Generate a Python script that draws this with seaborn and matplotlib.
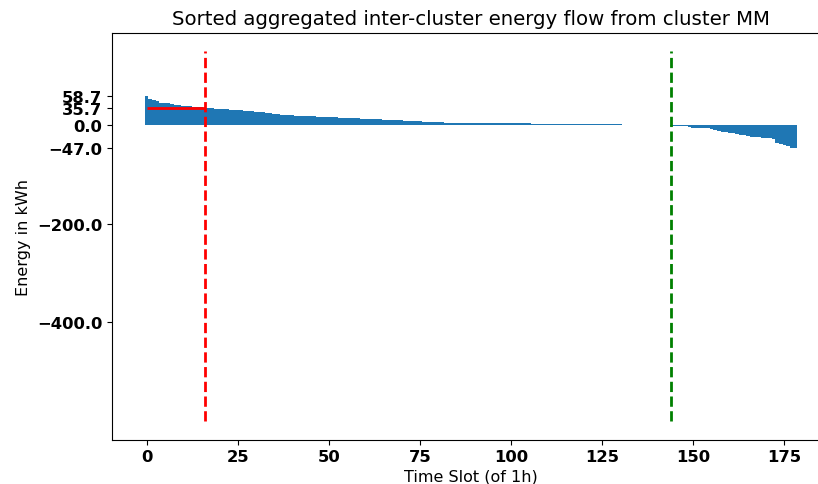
#!/usr/bin/env python3

import matplotlib
matplotlib.use("Agg")
import matplotlib.pyplot as plt
import numpy as np
import pandas as pd
import seaborn as sns

FIGSIZE = (8.18, 4.85)

# Sorted hourly inter-cluster flow (kWh).
POSITIVE = [
    58.7, 53.0, 50.5, 49.8, 45.6, 45.0, 44.2, 42.3, 41.8, 41.0,
    39.0, 38.6, 38.2, 37.8, 37.2, 36.5, 35.7, 35.0, 34.4, 33.5,
    33.1, 32.6, 32.1, 31.2, 30.8, 30.3, 29.8, 29.2, 28.7, 28.2,
    27.6, 26.6, 26.1, 25.4, 24.5, 22.6, 21.9, 20.6, 20.3, 20.0,
    19.7, 19.3, 18.6, 18.4, 18.2, 18.0, 17.8, 17.6, 17.4, 17.2,
    16.8, 16.3, 15.6, 15.4, 15.2, 15.0, 14.8, 14.5, 13.8, 13.3,
    12.4, 12.2, 12.0, 11.8, 11.6, 11.4, 11.1, 10.2, 10.0, 9.8,
    9.6, 9.4, 9.1, 8.2, 8.0, 7.7, 7.4, 6.5, 6.3, 6.1,
    5.9, 5.7, 5.4, 4.9, 4.85, 4.8, 4.75, 4.7, 4.65, 4.6,
    4.55, 4.5, 4.45, 4.4, 4.35, 4.3, 4.2, 4.1, 4.0, 3.6,
    3.58, 3.55, 3.52, 3.5, 3.47, 3.45, 3.42, 3.4, 3.37, 3.35,
    3.32, 3.3, 3.27, 3.25, 3.22, 3.2, 3.17, 3.15, 3.12, 3.1,
    3.07, 3.05, 3.02, 3.0, 2.96, 2.92, 2.88, 2.8, 1.8, 1.6,
    1.4,
]
ZERO = [0.0] * 13
NEGATIVE = [
    -1.0, -1.1, -1.2, -1.3, -1.5, -4.2, -4.8, -5.1, -5.4, -5.8,
    -6.5, -7.0, -9.8, -10.8, -12.8, -14.5, -15.5, -16.3, -18.5, -20.0,
    -20.8, -22.5, -23.2, -24.2, -24.8, -25.3, -26.0, -26.4, -27.0, -37.0,
    -38.0, -39.5, -42.0, -46.2, -47.0,
]

EXPORT_END = 16      # red marker slot
IMPORT_START = 144   # green marker slot
EXPORT_LEVEL = 35.7
YTICKS = [58.7, 35.7, 0.0, -47.0, -200.0, -400.0]

if __name__ == '__main__':
    energy = POSITIVE + ZERO + NEGATIVE
    df = pd.DataFrame({"slot": np.arange(len(energy)), "energy": energy})

    fig = plt.figure(figsize=FIGSIZE, dpi=100)
    # axes run a bit past the right edge, like the cropped original
    ax = fig.add_axes([0.137, 0.0915, 0.8774, 0.839])

    sns.barplot(data=df, x="slot", y="energy", native_scale=True,
                color="#1f77b4", saturation=1, width=1, errorbar=None,
                linewidth=0, ax=ax)

    ax.vlines(EXPORT_END, -600, 150, colors="red", linestyles="dashed", linewidth=2)
    ax.vlines(IMPORT_START, -600, 150, colors="green", linestyles="dashed", linewidth=2)
    ax.hlines(EXPORT_LEVEL, 0, EXPORT_END, colors="red", linewidth=2)

    ax.set_xlim(-9.45, 187.45)
    ax.set_ylim(-637.5, 187.5)
    ax.set_yticks(YTICKS)
    ax.set_xticks([0, 25, 50, 75, 100, 125, 150, 175])
    for lbl in ax.get_xticklabels() + ax.get_yticklabels():
        lbl.set_fontweight("bold")
        lbl.set_fontsize(11.8)

    ax.set_title("Sorted aggregated inter-cluster energy flow from cluster MM", fontsize=14.2)
    ax.set_xlabel("Time Slot (of 1h)", fontsize=11.5, labelpad=3)
    ax.set_ylabel("Energy in kWh", fontsize=11.5)

    fig.savefig("out.png", dpi=100)
